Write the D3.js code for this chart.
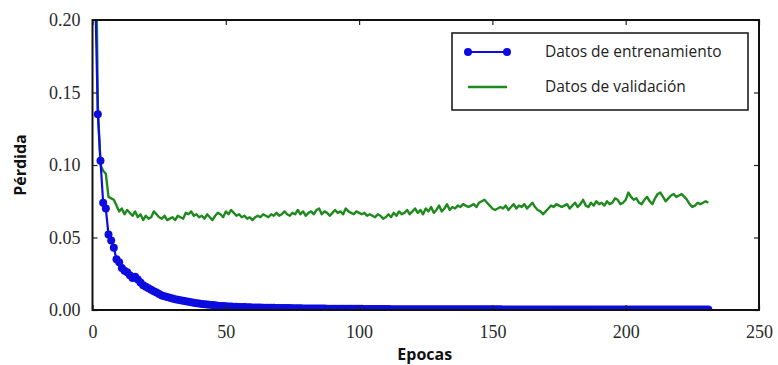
<!DOCTYPE html>
<html><head><meta charset="utf-8">
<script src="https://cdn.jsdelivr.net/npm/d3@7"></script>
<style>body{margin:0;background:#fff;}svg{display:block;}</style>
</head><body>
<svg id="chart" width="778" height="365"></svg>
<script>
const xTicks = [0, 50, 100, 150, 200, 250];
const yTicks = [0.00, 0.05, 0.10, 0.15, 0.20];
const seriesNames = ["Datos de entrenamiento", "Datos de validación"];

// epochs 1..231
const trainLoss = [
0.22,0.135,0.103,0.074,0.070,0.052,0.048,0.043,0.035,0.033,
0.029,0.027,0.026,0.024,0.022,0.023,0.021,0.019,0.017,0.016,
0.015,0.014,0.013,0.012,0.011,0.010,0.0095,0.009,0.0085,0.008,
0.0075,0.007,0.0068,0.0063,0.006,0.0057,0.0054,0.005,0.0047,0.0045,
0.0042,0.004,0.0038,0.0036,0.0034,0.0032,0.003,0.0028,0.0027,0.0026,
0.0025,0.0024,0.0023,0.0022,0.0021,0.0021,0.0020,0.0019,0.0019,0.0018,
0.0018,0.0017,0.0017,0.0016,0.0016,0.0015,0.0015,0.0015,0.0014,0.0014,
0.0014,0.0013,0.0013,0.0013,0.0012,0.0012,0.0012,0.0012,0.0011,0.0011,
0.0011,0.0011,0.0010,0.0010,0.0010,0.0010,0.0010,0.0009,0.0009,0.0009,
0.0009,0.0009,0.0009,0.0008,0.0008,0.0008,0.0008,0.0008,0.0008,0.0008,
0.0008,0.0007,0.0007,0.0007,0.0007,0.0007,0.0007,0.0007,0.0007,0.0007,
0.0007,0.0006,0.0006,0.0006,0.0006,0.0006,0.0006,0.0006,0.0006,0.0006,
0.0006,0.0006,0.0006,0.0006,0.0006,0.0006,0.0006,0.0005,0.0005,0.0005,
0.0005,0.0005,0.0005,0.0005,0.0005,0.0005,0.0005,0.0005,0.0005,0.0005,
0.0005,0.0005,0.0005,0.0005,0.0005,0.0005,0.0005,0.0005,0.0005,0.0005,
0.0005,0.0005,0.0005,0.0004,0.0004,0.0004,0.0004,0.0004,0.0004,0.0004,
0.0004,0.0004,0.0004,0.0004,0.0004,0.0004,0.0004,0.0004,0.0004,0.0004,
0.0004,0.0004,0.0004,0.0004,0.0004,0.0004,0.0004,0.0004,0.0004,0.0004,
0.0004,0.0004,0.0004,0.0004,0.0004,0.0004,0.0004,0.0004,0.0004,0.0004,
0.0004,0.0004,0.0004,0.0004,0.0004,0.0004,0.0004,0.0004,0.0004,0.0004,
0.0004,0.0004,0.0004,0.0004,0.0004,0.0004,0.0004,0.0004,0.0004,0.0004,
0.0004,0.0004,0.0004,0.0004,0.0004,0.0004,0.0004,0.0004,0.0004,0.0004,
0.0004,0.0004,0.0004,0.0004,0.0004,0.0004,0.0004,0.0004,0.0004,0.0004,
0.0004
];

const valLoss = [
0.30,0.140,0.100,0.096,0.094,0.078,0.077,0.076,0.072,0.068,
0.070,0.066,0.069,0.067,0.065,0.068,0.064,0.066,0.062,0.065,
0.063,0.064,0.068,0.066,0.064,0.063,0.065,0.062,0.063,0.064,
0.062,0.065,0.064,0.063,0.067,0.066,0.068,0.065,0.066,0.064,
0.065,0.063,0.066,0.064,0.062,0.065,0.067,0.066,0.064,0.068,
0.066,0.069,0.067,0.065,0.066,0.064,0.065,0.063,0.064,0.062,
0.064,0.065,0.064,0.066,0.065,0.064,0.066,0.065,0.067,0.065,
0.066,0.068,0.066,0.065,0.067,0.066,0.069,0.066,0.068,0.065,
0.067,0.068,0.066,0.069,0.070,0.066,0.068,0.067,0.065,0.067,
0.069,0.067,0.068,0.066,0.070,0.068,0.067,0.066,0.068,0.067,
0.066,0.067,0.065,0.066,0.065,0.064,0.066,0.065,0.063,0.064,
0.066,0.064,0.067,0.065,0.068,0.066,0.067,0.069,0.066,0.068,
0.070,0.067,0.069,0.066,0.070,0.068,0.071,0.067,0.069,0.072,
0.068,0.070,0.073,0.069,0.071,0.070,0.072,0.071,0.073,0.072,
0.071,0.072,0.073,0.071,0.074,0.075,0.076,0.074,0.072,0.070,
0.069,0.070,0.071,0.070,0.072,0.069,0.071,0.073,0.070,0.072,
0.071,0.073,0.070,0.072,0.074,0.071,0.069,0.068,0.066,0.068,
0.070,0.072,0.071,0.073,0.072,0.071,0.072,0.073,0.070,0.072,
0.074,0.071,0.073,0.076,0.072,0.071,0.074,0.072,0.075,0.073,
0.074,0.072,0.075,0.073,0.074,0.077,0.076,0.073,0.074,0.076,
0.081,0.078,0.076,0.077,0.074,0.073,0.076,0.078,0.075,0.073,
0.077,0.080,0.081,0.078,0.075,0.077,0.079,0.080,0.078,0.079,
0.080,0.078,0.076,0.073,0.071,0.072,0.074,0.073,0.074,0.075,
0.074
];

const epochs = trainLoss.map((d, i) => i + 1);

const svg = d3.select("#chart");
const m = {left: 92.5, right: 759, top: 20, bottom: 310};
const x = d3.scaleLinear().domain([0, 250]).range([m.left, m.right]);
const y = d3.scaleLinear().domain([0, 0.20]).range([m.bottom, m.top]);

svg.append("defs").append("clipPath").attr("id", "clip")
  .append("rect").attr("x", m.left).attr("y", m.top)
  .attr("width", m.right - m.left).attr("height", m.bottom - m.top);

const plot = svg.append("g").attr("clip-path", "url(#clip)");
const line = d3.line().x((d, i) => x(epochs[i])).y(d => y(d));

plot.append("path").datum(valLoss).attr("d", line)
  .attr("fill", "none").attr("stroke", "#1e8a1e").attr("stroke-width", 2.4)
  .attr("stroke-linejoin", "round");

plot.append("path").datum(trainLoss).attr("d", line)
  .attr("fill", "none").attr("stroke", "#0c0ce0").attr("stroke-width", 2.2);
plot.selectAll("circle.t").data(trainLoss).enter().append("circle")
  .attr("class", "t").attr("cx", (d, i) => x(epochs[i])).attr("cy", d => y(d))
  .attr("r", 4).attr("fill", "#0c0ce0");

// axes with inside ticks
const tickFont = "'Liberation Serif', 'DejaVu Serif', serif";
const axB = svg.append("g").attr("transform", `translate(0,${m.bottom})`)
  .call(d3.axisBottom(x).tickValues(xTicks).tickSizeInner(-5).tickSizeOuter(0).tickPadding(12).tickFormat(d3.format("d")));
const axT = svg.append("g").attr("transform", `translate(0,${m.top})`)
  .call(d3.axisTop(x).tickValues(xTicks).tickSizeInner(-5).tickSizeOuter(0).tickFormat(""));
const axL = svg.append("g").attr("transform", `translate(${m.left},0)`)
  .call(d3.axisLeft(y).tickValues(yTicks).tickSizeInner(-5).tickSizeOuter(0).tickPadding(12).tickFormat(d3.format(".2f")));
const axR = svg.append("g").attr("transform", `translate(${m.right},0)`)
  .call(d3.axisRight(y).tickValues(yTicks).tickSizeInner(-5).tickSizeOuter(0).tickFormat(""));
[axB, axT, axL, axR].forEach(a => {
  a.select(".domain").remove();
  a.selectAll(".tick line").attr("stroke", "#222").attr("stroke-width", 1.2);
  a.selectAll("text").attr("font-family", tickFont).attr("font-size", 18).attr("fill", "#2a2a2a");
});
axB.selectAll("text").attr("dy", "0.9em");

svg.append("rect").attr("x", m.left).attr("y", m.top)
  .attr("width", m.right - m.left).attr("height", m.bottom - m.top)
  .attr("fill", "none").attr("stroke", "#111").attr("stroke-width", 2);

// axis titles
const labFont = "'Open Sans', 'Noto Sans', sans-serif";
svg.append("text").attr("x", (m.left + m.right) / 2 - 1).attr("y", 360)
  .attr("text-anchor", "middle").attr("font-family", labFont).attr("font-weight", "bold")
  .attr("font-size", 16).attr("fill", "#111").text("Epocas");
svg.append("text").attr("transform", "translate(26,165) rotate(-90)")
  .attr("text-anchor", "middle").attr("font-family", labFont).attr("font-weight", "bold")
  .attr("font-size", 16).attr("fill", "#111").text("Pérdida");

// legend
const lg = svg.append("g");
lg.append("rect").attr("x", 452).attr("y", 33).attr("width", 296).attr("height", 77)
  .attr("fill", "#fff").attr("stroke", "#111").attr("stroke-width", 1.5);
lg.append("line").attr("x1", 468).attr("x2", 507).attr("y1", 52).attr("y2", 52)
  .attr("stroke", "#0c0ce0").attr("stroke-width", 2.2);
[468, 507].forEach(cx => lg.append("circle").attr("cx", cx).attr("cy", 52).attr("r", 4).attr("fill", "#0c0ce0"));
lg.append("line").attr("x1", 468).attr("x2", 507).attr("y1", 87).attr("y2", 87)
  .attr("stroke", "#1e8a1e").attr("stroke-width", 2.4);
lg.selectAll("text.l").data(seriesNames).enter().append("text")
  .attr("x", 545).attr("y", (d, i) => 57 + i * 35)
  .attr("font-family", labFont).attr("font-size", 15.5).attr("fill", "#222").text(d => d);
</script>
</body></html>
